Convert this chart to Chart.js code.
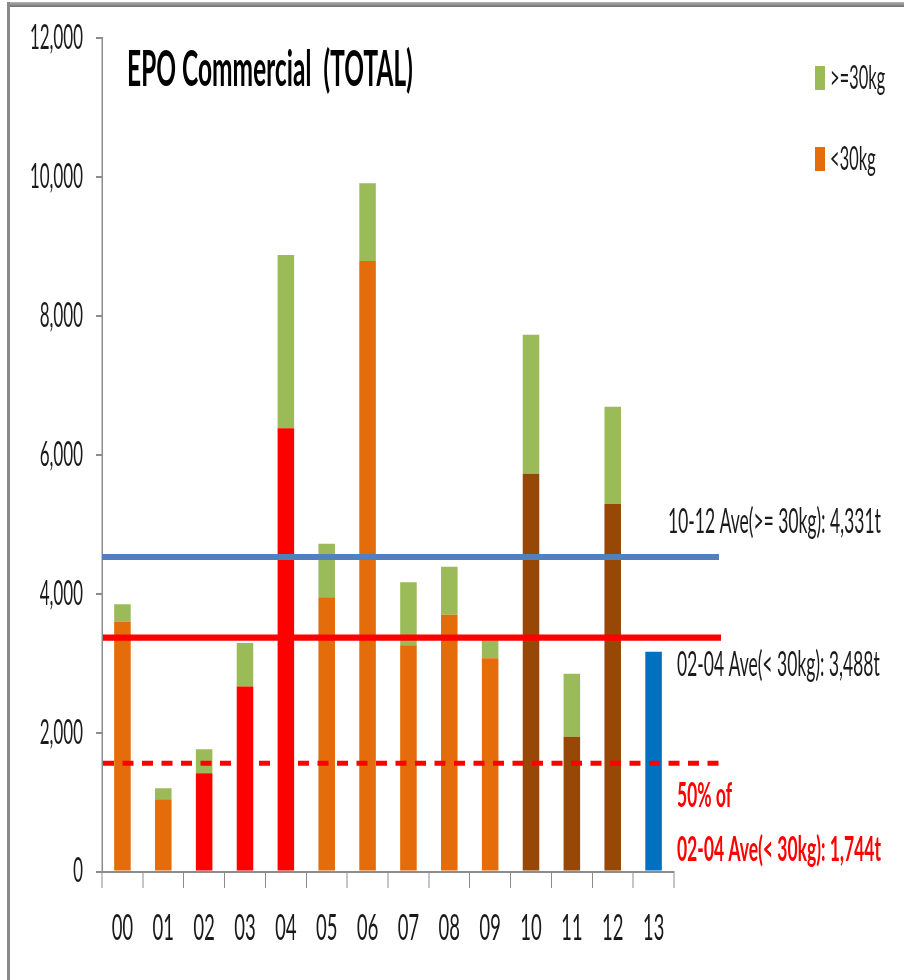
<!DOCTYPE html>
<html>
<head>
<meta charset="utf-8">
<script src="https://cdn.jsdelivr.net/npm/chart.js@4"></script>
<style>
  html, body { margin:0; padding:0; background:#fff; width:904px; height:980px; overflow:hidden; }
  #wrap { position:absolute; left:0; top:0; width:904px; height:490px; transform:scaleY(2); transform-origin:0 0; }
  #btop { position:absolute; left:8px; top:2px; width:896px; height:5px; background:linear-gradient(#b4b4b4,#6f6f6f); z-index:2; }
  #bleft { position:absolute; left:7px; top:2px; width:3px; height:978px; background:#8a8a8a; z-index:2; }
</style>
</head>
<body>
<div id="btop"></div><div id="bleft"></div>
<div id="wrap"><canvas id="c"></canvas></div>
<script>
// ---- data ----
const categories = ['00','01','02','03','04','05','06','07','08','09','10','11','12','13'];
const under30 = [3600,1040,1415,2665,6384,3950,8795,3260,3700,3070,5730,1940,5295,3165];
const over30  = [250,160,345,625,2495,770,1120,905,690,260,2000,910,1400,0];
const under30Colors = ['#E46C0A','#E46C0A','#FF0000','#FF0000','#FF0000','#E46C0A','#E46C0A',
                       '#E46C0A','#E46C0A','#E46C0A','#974706','#974706','#974706','#0070C0'];
const over30Color = '#9BBB59';
const seriesNames = ['<30kg','>=30kg'];
const yTickMin = 0, yTickMax = 12000, yTickStep = 2000;
const refValues = [4530, 3370, 1558];
const refColors = ['#4F81BD','#FF0000','#FF0000'];
const refDashed = [false, false, true];
const titleText = 'EPO Commercial  (TOTAL)';
const noteBlue = '10-12 Ave(>= 30kg): 4,331t';
const noteRed = '02-04 Ave(< 30kg): 3,488t';
const noteHalf = ['50% of', '02-04 Ave(< 30kg): 1,744t'];

const FONT = 'Lato, "Open Sans", sans-serif';

const overlay = {
  id: 'overlay',
  afterDatasetsDraw(chart) {
    const {ctx, chartArea: a, scales: {y}} = chart;
    ctx.save();
    // reference lines
    const widths = [3, 3.1, 2.5];
    const starts = [a.left, a.left + 1, a.left + 1];
    const ends = [a.right + 45, a.right + 47, a.right + 46];
    refValues.forEach((v, i) => {
      const py = y.getPixelForValue(v);
      ctx.beginPath();
      ctx.strokeStyle = refColors[i];
      ctx.lineWidth = widths[i];
      ctx.setLineDash(refDashed[i] ? [11, 8.5] : []);
      ctx.moveTo(starts[i], py);
      ctx.lineTo(ends[i], py);
      ctx.stroke();
    });
    ctx.setLineDash([]);
    // notes
    ctx.textBaseline = 'middle';
    ctx.textAlign = 'left';
    ctx.fillStyle = '#1a1a1a';
    ctx.font = '17.5px ' + FONT;
    ctx.fillText(noteBlue, 668, y.getPixelForValue(refValues[0]) - 17.5);
    ctx.fillText(noteRed, 677, y.getPixelForValue(refValues[1]) + 13.7);
    ctx.fillStyle = '#FF0000';
    ctx.font = 'bold 17.5px ' + FONT;
    ctx.fillText(noteHalf[0], 677, y.getPixelForValue(refValues[2]) + 16.3);
    ctx.fillText(noteHalf[1], 677, y.getPixelForValue(refValues[2]) + 43.3);
    // title
    ctx.fillStyle = '#000';
    ctx.font = 'bold 24.5px ' + FONT;
    ctx.fillText(titleText, 127, 35);
    // legend
    const leg = [[over30Color, seriesNames[1], 39], ['#E46C0A', seriesNames[0], 79.5]];
    ctx.font = '16.5px ' + FONT;
    leg.forEach(([c, t, cy]) => {
      ctx.fillStyle = c;
      ctx.fillRect(815, cy - 6, 10, 12);
      ctx.fillStyle = '#1a1a1a';
      ctx.fillText(t, 830, cy);
    });
    ctx.restore();
  }
};

new Chart(document.getElementById('c'), {
  type: 'bar',
  data: {
    labels: categories,
    datasets: [
      { label: seriesNames[0], data: under30, backgroundColor: under30Colors, borderWidth: 0 },
      { label: seriesNames[1], data: over30, backgroundColor: over30Color, borderWidth: 0 }
    ]
  },
  options: {
    responsive: true,
    maintainAspectRatio: false,
    devicePixelRatio: 2,
    animation: false,
    layout: { padding: { left: 0, right: 230, top: 19.2, bottom: 0 } },
    datasets: { bar: { barPercentage: 1, categoryPercentage: 0.405 } },
    plugins: { legend: { display: false }, tooltip: { enabled: false } },
    scales: {
      x: {
        stacked: true,
        offset: true,
        grid: { offset: true, drawOnChartArea: false, drawTicks: true, tickLength: 8.25, color: '#8c8c8c', lineWidth: 1 },
        border: { display: true, color: '#8c8c8c', width: 1 },
        ticks: { color: '#1a1a1a', font: { family: FONT, size: 18.5 }, padding: 9 },
        afterFit(s) { s.height = 54.25; s.paddingLeft = 0; s.paddingRight = 0; }
      },
      y: {
        stacked: true,
        min: yTickMin, max: yTickMax,
        grid: { drawOnChartArea: false, drawTicks: true, tickLength: 6, color: '#8c8c8c', lineWidth: 1 },
        border: { display: true, color: '#8c8c8c', width: 1.5 },
        ticks: {
          stepSize: yTickStep, color: '#1a1a1a', padding: 13,
          font: { family: FONT, size: 17 },
          callback: v => v.toLocaleString('en-US')
        },
        afterFit(s) { s.width = 102; s.paddingTop = 0; s.paddingBottom = 0; }
      }
    }
  },
  plugins: [overlay]
});
</script>
</body>
</html>
